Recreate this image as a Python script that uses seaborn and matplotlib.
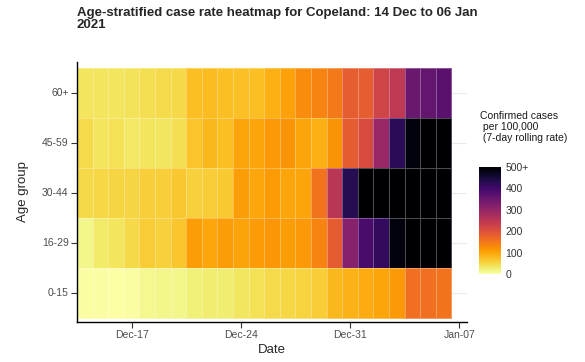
import numpy as np
import pandas as pd
import seaborn as sns
import matplotlib.pyplot as plt

# data (7-day rolling rate per 100,000)
dates = pd.date_range("2020-12-14", "2021-01-06")
age_groups = ["60+", "45-59", "30-44", "16-29", "0-15"]

rate_60plus = [36, 37, 36, 38, 42, 45, 48, 75, 78, 76, 74, 76, 88, 105, 125, 135, 148, 182, 183, 222, 245, 350, 358, 372]
rate_45_59 = [45, 36, 40, 33, 37, 35, 42, 70, 82, 76, 100, 100, 112, 118, 100, 88, 118, 185, 210, 295, 425, 490, 540, 560]
rate_30_44 = [47, 50, 52, 52, 58, 57, 65, 56, 60, 63, 108, 98, 110, 98, 100, 155, 250, 430, 560, 600, 620, 640, 650, 660]
rate_16_29 = [15, 30, 37, 48, 62, 55, 68, 108, 98, 108, 102, 110, 115, 108, 113, 135, 185, 315, 390, 415, 490, 530, 560, 580]
rate_0_15 = [2, 2, 1, 2, 12, 14, 14, 22, 26, 26, 35, 40, 45, 50, 54, 60, 82, 86, 92, 100, 112, 160, 160, 155]

tick_dates = ["2020-12-17", "2020-12-24", "2020-12-31", "2021-01-07"]
tick_labels = ["Dec-17", "Dec-24", "Dec-31", "Jan-07"]
cbar_ticks = [0, 100, 200, 300, 400, 500]
cbar_labels = ["0", "100", "200", "300", "400", "500+"]

df = pd.DataFrame([rate_60plus, rate_45_59, rate_30_44, rate_16_29, rate_0_15],
                  index=age_groups, columns=dates)

sns.set_style("white")
plt.rcParams["font.family"] = ["Liberation Sans", "DejaVu Sans"]

fig = plt.figure(figsize=(5.85, 3.62), dpi=100)
ax = fig.add_axes([0.1316, 0.1105, 0.6667, 0.7182])
cax = fig.add_axes([0.819, 0.2431, 0.0376, 0.2956])

# faint horizontal grid, only visible right of the tiles
for i in range(len(age_groups)):
    ax.axhline(i + 0.5, color="#ebebeb", lw=0.8, zorder=0)

sns.heatmap(df, ax=ax, cmap="inferno_r", vmin=0, vmax=500,
            linewidths=0.5, linecolor=(1, 1, 1, 0.3), cbar_ax=cax)

ax.set_xlim(0, 25)
ax.set_ylim(5.08, -0.12)

for side in ["left", "bottom"]:
    ax.spines[side].set_visible(True)
    ax.spines[side].set_color("black")
    ax.spines[side].set_linewidth(1)

xpos = (pd.to_datetime(tick_dates) - dates[0]).days + 0.5
ax.set_xticks(xpos)
ax.set_xticklabels(tick_labels, rotation=0)
ax.set_yticks(np.arange(len(age_groups)) + 0.5)
ax.set_yticklabels(age_groups, rotation=0)
ax.tick_params(axis="both", length=4, width=0.8, color="#333333",
               labelcolor="#4d4d4d", labelsize=7.5, pad=2)
ax.tick_params(left=True, bottom=True)

ax.set_xlabel("Date", fontsize=9.5, labelpad=3)
ax.set_ylabel("Age group", fontsize=9.5, labelpad=9)

cbar = ax.collections[0].colorbar
cbar.set_ticks(cbar_ticks)
cbar.set_ticklabels(cbar_labels)
cbar.outline.set_visible(False)
cax.tick_params(length=3, direction="in", color="white", width=0.6,
                labelsize=7.5, labelcolor="#333333", pad=3)

fig.text(480 / 585, 1 - 111 / 362, "Confirmed cases\n per 100,000\n (7-day rolling rate)",
         va="top", ha="left", fontsize=7.5, color="#1a1a1a", linespacing=1.1)

fig.text(0.1316, 1 - 7 / 362,
         "Age-stratified case rate heatmap for Copeland: 14 Dec to 06 Jan\n2021",
         va="top", ha="left", fontsize=9.5, fontweight="bold", linespacing=0.95)

fig.savefig("out.png", dpi=100)
